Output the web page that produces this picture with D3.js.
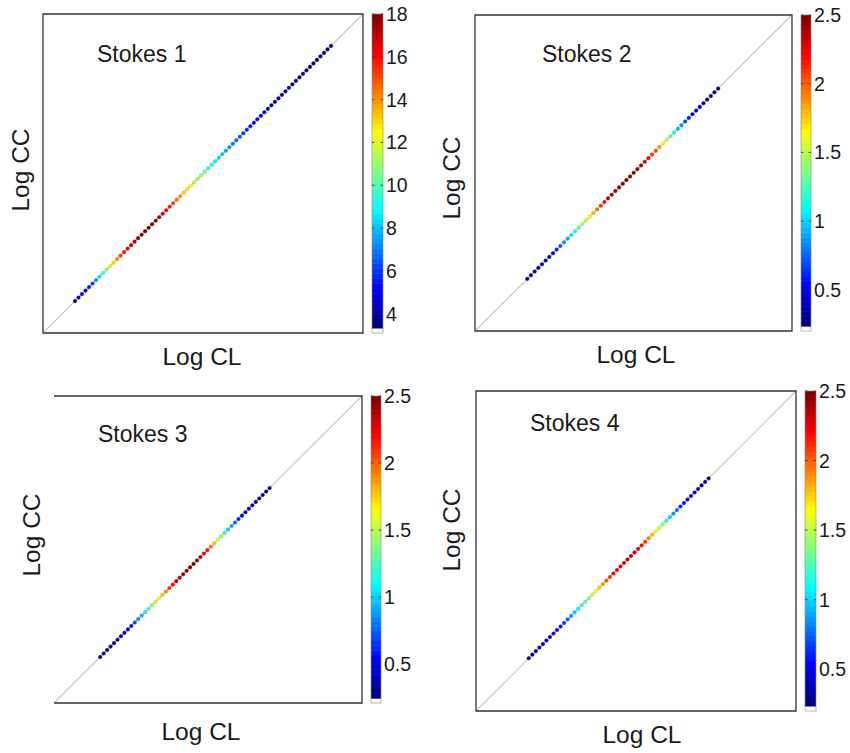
<!DOCTYPE html>
<html>
<head>
<meta charset="utf-8">
<script src="https://cdn.jsdelivr.net/npm/d3@7"></script>
<style>
  html, body { margin: 0; padding: 0; background: #fff; }
  svg { display: block; font-family: "Liberation Sans", Arial, sans-serif; }
</style>
</head>
<body>
<svg id="chart" width="850" height="753"></svg>
<script>
// ---------------- DATA ----------------
const panelTitles = ["Stokes 1", "Stokes 2", "Stokes 3", "Stokes 4"];
const xLabel = "Log CL";
const yLabel = "Log CC";

// colour value of each dot along the diagonal (from lower-left to upper-right)
const stokes1Values = [3.5,3.8,4.2,4.8,5.5,6.3, 7.5,8.5,9.5, 11,12,13, 14,
  15,15.8,16.3,16.8,17.2, 17.6,17.9,18,18,17.9,17.6, 17.2,16.8,16.3,15.8,15.2,14.6,
  14, 13.3,12.7,12.2,11.6,11.1,10.6, 10.1,9.6, 9.2,8.8,8.4,8.0,7.6,7.3,7.0,6.7,
  6.4,6.1,5.8,5.5,5.2, 5.0,4.8,4.6,4.4,
  4.2,4.1,4.0,3.9,3.85,3.8,3.75,3.7,3.65,3.6,3.55,3.5,3.5,3.45,3.45,3.4,3.4,3.4];
const stokes2Values = [0.3,0.3,0.32,0.34,0.36,0.4,0.44,0.5, 0.6,0.72, 0.85,0.95,1.05,1.15,
  1.3,1.45,1.55,1.65, 1.8,1.95, 2.1,2.2,2.3,2.35,2.4, 2.45,2.5,2.5,2.5,2.48,2.45,2.4,
  2.3,2.2,2.1,2.0, 1.85, 1.65,1.5, 1.3, 1.1,0.95,0.85, 0.7,0.6,
  0.5,0.45,0.4,0.36,0.33,0.3,0.28,0.27];
const stokes3Values = [0.28,0.28,0.3,0.3,0.32,0.34,0.36,0.4,0.45, 0.55,0.68, 0.82,0.95,1.08,
  1.25,1.4,1.52,1.62, 1.78,1.92, 2.08,2.2,2.3, 2.38,2.44,2.48,2.5,2.48,2.44,2.38,
  2.28,2.15, 1.95,1.78,1.6, 1.4, 1.18,1.02,0.9, 0.75,0.62,
  0.52,0.46,0.42,0.38,0.35,0.33,0.31,0.3,0.29];
const stokes4Values = [0.28,0.28,0.3,0.31,0.33,0.35,0.38,0.42,0.47, 0.56,0.66,
  0.78,0.88,0.98,1.08,1.18, 1.3,1.42,1.52,1.62, 1.75,1.88, 2.0,2.1,2.18,2.24,
  2.28,2.32,2.34,2.34,2.32,2.28, 2.2,2.08, 1.92,1.8, 1.65,1.52, 1.35, 1.15,1.0,0.88,
  0.74,0.63,0.55, 0.48,0.42,0.38,0.34,0.32,0.3,0.29];
const panelValues = [stokes1Values, stokes2Values, stokes3Values, stokes4Values];

// Log CL (= Log CC) of the first and last dot, axes normalised to [0, 1]
const dotStart = [0.10, 0.165, 0.15, 0.165];
const dotEnd   = [0.90, 0.767, 0.70, 0.727];

// colour-bar limits and tick labels
const colorLimits = [[3.1, 18], [0.2, 2.5], [0.21, 2.5], [0.2, 2.5]];
const colorTicks1 = [4, 6, 8, 10, 12, 14, 16, 18];
const colorTicks234 = [0.5, 1, 1.5, 2, 2.5];
const panelTicks = [colorTicks1, colorTicks234, colorTicks234, colorTicks234];

// ---------------- LAYOUT ----------------
const layout = [
  { box: {x: 43, y: 14, w: 320, h: 319}, cb: {x: 372, w: 11}, left: true,
    title: {x: 97, y: 62}, xl: {x: 202, y: 365}, yl: {x: 29, y: 170} },
  { box: {x: 475, y: 15, w: 317, h: 316}, cb: {x: 801, w: 10}, left: true,
    title: {x: 542, y: 62}, xl: {x: 636, y: 363}, yl: {x: 460, y: 178} },
  { box: {x: 54, y: 396, w: 308, h: 307}, cb: {x: 371, w: 10}, left: false,
    title: {x: 98, y: 442}, xl: {x: 201, y: 740}, yl: {x: 40, y: 535} },
  { box: {x: 476, y: 391, w: 320, h: 320}, cb: {x: 805, w: 11}, left: true,
    title: {x: 530, y: 431}, xl: {x: 642, y: 743}, yl: {x: 460, y: 530} }
];

// ---------------- COLOUR MAP (MATLAB jet with white lowest entry) ----------------
const NCOL = 64;
function clamp01(v) { return Math.max(0, Math.min(1, v)); }
function jet(t) {
  const r = clamp01(1.5 - Math.abs(4 * t - 3));
  const g = clamp01(1.5 - Math.abs(4 * t - 2));
  const b = clamp01(1.5 - Math.abs(4 * t - 1));
  return d3.rgb(r * 255, g * 255, b * 255).formatHex();
}
function colormapEntry(k) { return k === 0 ? "#ffffff" : jet((k - 1) / (NCOL - 2)); }

const svg = d3.select("#chart");

layout.forEach((L, p) => {
  const g = svg.append("g");
  const b = L.box;
  const x = d3.scaleLinear().domain([0, 1]).range([b.x, b.x + b.w]);
  const y = d3.scaleLinear().domain([0, 1]).range([b.y + b.h, b.y]);

  // colour scale
  const [cmin, cmax] = colorLimits[p];
  const idxScale = d3.scaleQuantize().domain([cmin, cmax]).range(d3.range(NCOL));
  const color = v => colormapEntry(idxScale(Math.max(cmin, Math.min(cmax, v))));

  // diagonal reference line
  g.append("line")
    .attr("x1", x(0)).attr("y1", y(0)).attr("x2", x(1)).attr("y2", y(1))
    .attr("stroke", "#c8c8c8").attr("stroke-width", 1.2);

  // dots
  const vals = panelValues[p];
  const pos = d3.scalePoint().domain(d3.range(vals.length)).range([dotStart[p], dotEnd[p]]);
  g.selectAll("circle.dot").data(vals).join("circle")
    .attr("class", "dot")
    .attr("cx", (d, i) => x(pos(i)))
    .attr("cy", (d, i) => y(pos(i)))
    .attr("r", 1.8)
    .attr("fill", d => color(d))
    .attr("stroke", d => d3.rgb(color(d)).darker(0.6))
    .attr("stroke-width", 0.4);

  // box
  const frame = g.append("path")
    .attr("fill", "none").attr("stroke", "#333").attr("stroke-width", 1.3);
  const x0 = b.x, x1 = b.x + b.w, y0 = b.y, y1 = b.y + b.h;
  if (L.left) {
    frame.attr("d", `M${x0},${y0}H${x1}V${y1}H${x0}Z`);
  } else {
    frame.attr("d", `M${x0},${y0}H${x1}V${y1}H${x0}`);
  }

  // colour bar
  const cbY = d3.scaleLinear().domain([cmin, cmax]).range([y1, y0]);
  const segH = b.h / NCOL;
  const cb = g.append("g");
  cb.selectAll("rect").data(d3.range(NCOL)).join("rect")
    .attr("x", L.cb.x)
    .attr("y", k => y1 - (k + 1) * segH)
    .attr("width", L.cb.w)
    .attr("height", segH + 0.5)
    .attr("fill", k => colormapEntry(k));
  cb.append("rect")
    .attr("x", L.cb.x).attr("y", y0).attr("width", L.cb.w).attr("height", b.h)
    .attr("fill", "none").attr("stroke", "#888").attr("stroke-width", 0.6);

  const ticks = panelTicks[p];
  cb.selectAll("line.tl").data(ticks).join("line")
    .attr("class", "tl")
    .attr("x1", L.cb.x).attr("x2", L.cb.x + 2.5)
    .attr("y1", d => cbY(d)).attr("y2", d => cbY(d))
    .attr("stroke", "#333").attr("stroke-width", 0.8);
  cb.selectAll("line.tr").data(ticks).join("line")
    .attr("class", "tr")
    .attr("x1", L.cb.x + L.cb.w - 2.5).attr("x2", L.cb.x + L.cb.w)
    .attr("y1", d => cbY(d)).attr("y2", d => cbY(d))
    .attr("stroke", "#333").attr("stroke-width", 0.8);
  cb.selectAll("text").data(ticks).join("text")
    .attr("x", L.cb.x + L.cb.w + 3)
    .attr("y", d => cbY(d))
    .attr("dy", "0.36em")
    .attr("font-size", 19.5)
    .attr("fill", "#1a1a1a")
    .text(d => d3.format("~g")(d));

  // texts
  g.append("text")
    .attr("x", L.title.x).attr("y", L.title.y)
    .attr("font-size", 23).attr("fill", "#1a1a1a")
    .text(panelTitles[p]);
  g.append("text")
    .attr("x", L.xl.x).attr("y", L.xl.y)
    .attr("text-anchor", "middle")
    .attr("font-size", 24.5).attr("fill", "#1a1a1a")
    .text(xLabel);
  g.append("text")
    .attr("transform", `translate(${L.yl.x},${L.yl.y}) rotate(-90)`)
    .attr("text-anchor", "middle")
    .attr("font-size", 24.5).attr("fill", "#1a1a1a")
    .text(yLabel);
});
</script>
</body>
</html>
